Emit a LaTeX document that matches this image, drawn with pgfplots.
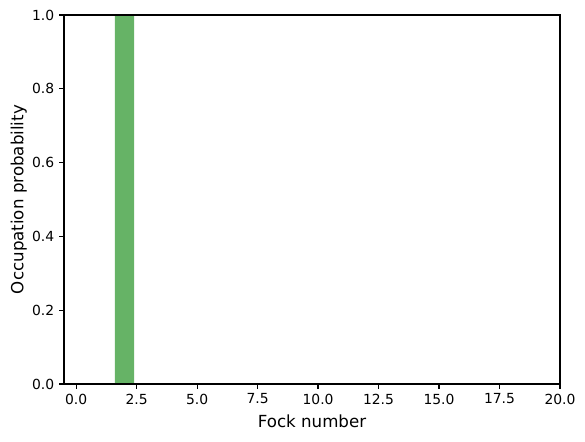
\documentclass[border=0pt]{standalone}
\usepackage{fontspec}
\setmainfont{DejaVu Sans}
\usepackage{pgfplots}
\pgfplotsset{compat=1.18}
\definecolor{bargreen}{RGB}{102,179,102}

\begin{document}
\begin{tikzpicture}
\begin{axis}[
    width=357.1pt, height=265.7pt, scale only axis,
    xmin=-0.5, xmax=20, ymin=0, ymax=1,
    xtick={0,2.5,...,20}, ytick={0,0.2,0.4,0.6,0.8,1.0},
    tick align=outside, tick pos=left,
    major tick length=3.5pt,
    every tick/.style={line width=0.8pt, black},
    axis line style={line width=0.8pt},
    axis on top,
    /pgf/number format/.cd, fixed, fixed zerofill, precision=1, assume math mode=true,
    /pgfplots/.cd,
    tick label style={font=\fontsize{10}{12}\selectfont},
    label style={font=\fontsize{12}{14}\selectfont},
    xlabel={Fock number},
    ylabel={Occupation probability},
    ylabel style={yshift=-3pt},
    xlabel style={yshift=-1pt},
    ybar, bar width=0.8, bar shift=0pt,
]
\addplot[fill=bargreen, draw=none] coordinates {
    (0,0) (1,0) (2,1) (3,0) (4,0) (5,0) (6,0) (7,0) (8,0) (9,0)
    (10,0) (11,0) (12,0) (13,0) (14,0) (15,0) (16,0) (17,0) (18,0) (19,0)
};
\end{axis}
\path (current axis.south west) ++(-46.08pt,-41.04pt)
    rectangle ([shift={(18pt,10.8pt)}]current axis.north east);
\end{tikzpicture}
\end{document}
